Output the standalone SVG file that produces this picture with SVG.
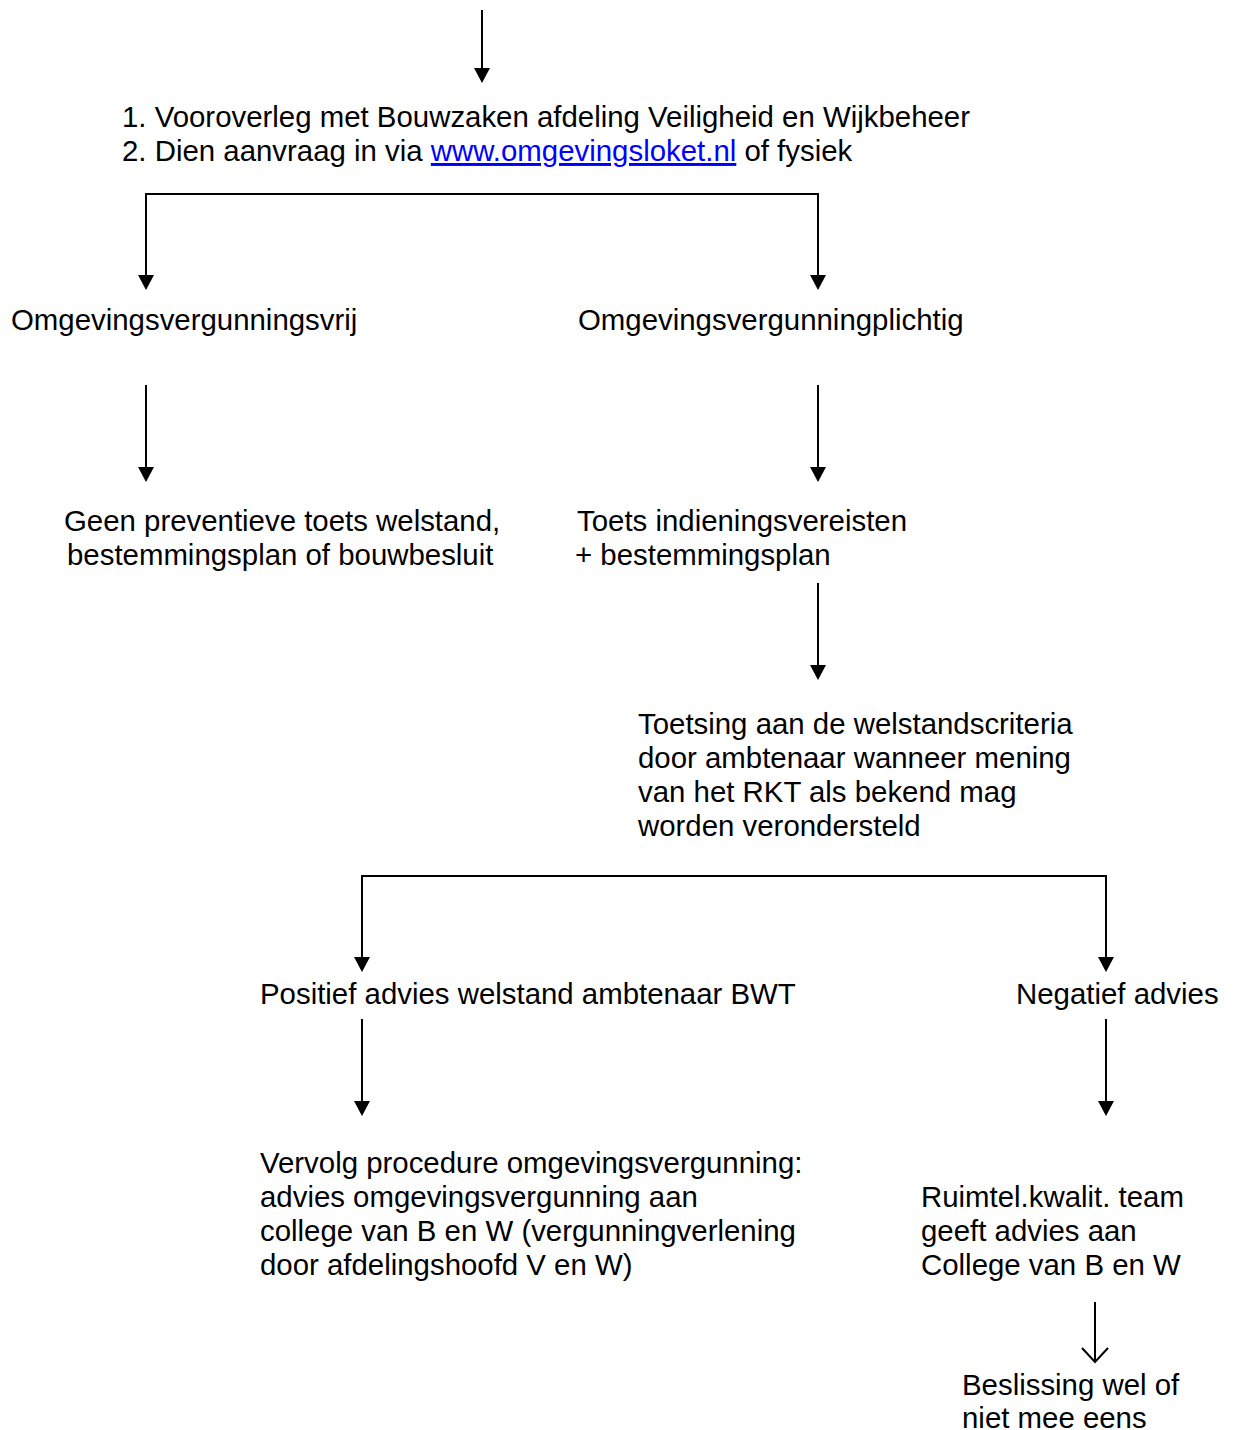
<svg xmlns="http://www.w3.org/2000/svg" width="1235" height="1430" viewBox="0 0 1235 1430">
<defs>
<style>
text{font-family:"Liberation Sans",Arial,sans-serif;font-size:29.4px;fill:#000}
.c{stroke:#000;stroke-width:2;fill:none}
.h{fill:#000}
.link{fill:#0000ff}
</style>
</defs>
<rect width="1235" height="1430" fill="#fff"/>
<g id="connectors">
<path class="c" d="M482,10 V68"/><path class="h" d="M474,68 L490,68 L482,83 Z"/>
<path class="c" d="M818,275 V194 H146 V275"/>
<path class="h" d="M138,275 L154,275 L146,290 Z"/><path class="h" d="M810,275 L826,275 L818,290 Z"/>
<path class="c" d="M146,385 V467"/><path class="h" d="M138,467 L154,467 L146,482 Z"/>
<path class="c" d="M818,385 V467"/><path class="h" d="M810,467 L826,467 L818,482 Z"/>
<path class="c" d="M818,583 V665"/><path class="h" d="M810,665 L826,665 L818,680 Z"/>
<path class="c" d="M1106,957 V876 H362 V957"/>
<path class="h" d="M354,957 L370,957 L362,972 Z"/><path class="h" d="M1098,957 L1114,957 L1106,972 Z"/>
<path class="c" d="M362,1019 V1101"/><path class="h" d="M354,1101 L370,1101 L362,1116 Z"/>
<path class="c" d="M1106,1019 V1101"/><path class="h" d="M1098,1101 L1114,1101 L1106,1116 Z"/>
<path class="c" stroke-width="3" d="M1095,1302 V1362"/><path class="c" stroke-width="3.5" d="M1082,1348 L1095,1362 L1108,1348"/>
</g>
<g id="n-start">
<text x="122" y="127">1. Vooroverleg met Bouwzaken afdeling Veiligheid en Wijkbeheer</text>
<text x="122" y="161">2. Dien aanvraag in via <tspan class="link" text-decoration="underline">www.omgevingsloket.nl</tspan> of fysiek</text>
</g>
<g id="n-vrij"><text x="11" y="330">Omgevingsvergunningsvrij</text></g>
<g id="n-plichtig"><text x="578" y="330">Omgevingsvergunningplichtig</text></g>
<g id="n-geen">
<text x="64" y="531">Geen preventieve toets welstand,</text>
<text x="67" y="565">bestemmingsplan of bouwbesluit</text>
</g>
<g id="n-toets">
<text x="577" y="531">Toets indieningsvereisten</text>
<text x="575" y="565">+ bestemmingsplan</text>
</g>
<g id="n-toetsing">
<text x="638" y="734">Toetsing aan de welstandscriteria</text>
<text x="638" y="768">door ambtenaar wanneer mening</text>
<text x="638" y="802">van het RKT als bekend mag</text>
<text x="638" y="836">worden verondersteld</text>
</g>
<g id="n-positief"><text x="260" y="1004">Positief advies welstand ambtenaar BWT</text></g>
<g id="n-negatief"><text x="1016" y="1004">Negatief advies</text></g>
<g id="n-vervolg">
<text x="260" y="1173">Vervolg procedure omgevingsvergunning:</text>
<text x="260" y="1207">advies omgevingsvergunning aan</text>
<text x="260" y="1241">college van B en W (vergunningverlening</text>
<text x="260" y="1275">door afdelingshoofd V en W)</text>
</g>
<g id="n-rkt">
<text x="921" y="1207">Ruimtel.kwalit. team</text>
<text x="921" y="1241">geeft advies aan</text>
<text x="921" y="1275">College van B en W</text>
</g>
<g id="n-beslissing">
<text x="962" y="1395">Beslissing wel of</text>
<text x="962" y="1428">niet mee eens</text>
</g>
</svg>
